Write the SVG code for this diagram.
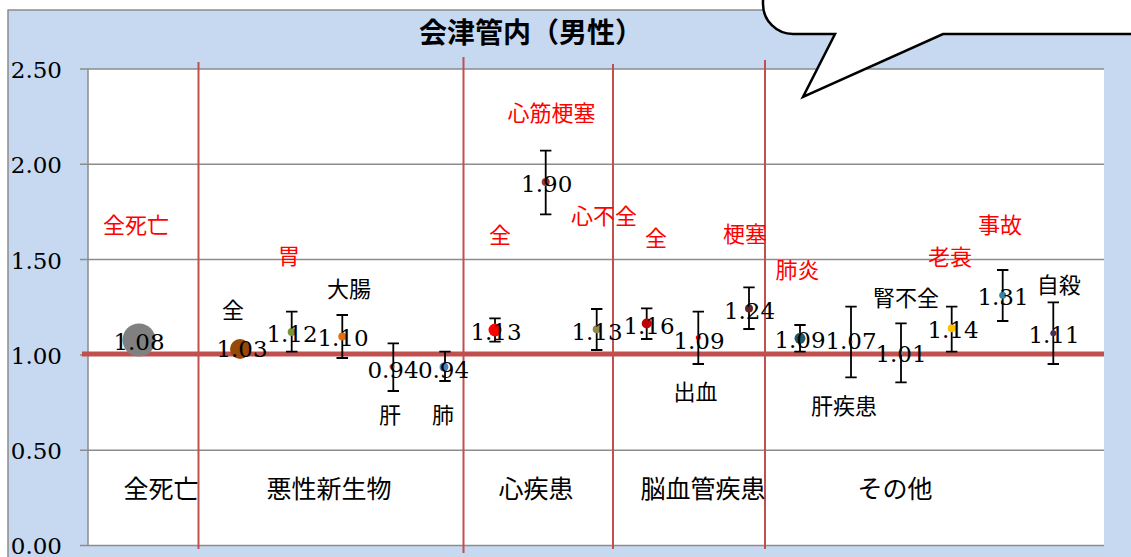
<svg xmlns="http://www.w3.org/2000/svg" width="1131" height="557" viewBox="0 0 1131 557">
<defs>
<style>
.grid{stroke:#8c8c8c;stroke-width:1.5;fill:none}
.div{stroke:#c0504d;stroke-width:2;fill:none}
.err{stroke:#000;stroke-width:1.8;fill:none}
.num{font-family:"DejaVu Serif","Liberation Serif",serif;font-size:23px;fill:#000;text-anchor:middle}
.ax{font-family:"DejaVu Serif","Liberation Serif",serif;font-size:23px;fill:#000;text-anchor:end}
.jr{font-family:"Noto Sans CJK JP",sans-serif;font-size:22px;fill:#ff0000;text-anchor:middle}
.jb{font-family:"Noto Sans CJK JP",sans-serif;font-size:22px;fill:#000;text-anchor:middle}
.cat{font-family:"Noto Sans CJK JP",sans-serif;font-size:25px;fill:#000;text-anchor:middle}
</style>
</defs>
<rect x="0" y="0" width="1131" height="557" fill="#fff"/>
<rect x="8" y="10" width="1140" height="560" fill="#c6d9f0" stroke="#8c8c8c" stroke-width="1.5"/>
<rect x="88" y="69" width="1016" height="476" fill="#fff"/>
<g id="axes">
<path class="grid" d="M80 69H1104M80 164.3H1104M80 259.6H1104M80 354.9H1104M80 450.2H1104M80 545.5H1104M88 69V545.5"/>
<text class="ax" x="62" y="78">2.50</text>
<text class="ax" x="62" y="173">2.00</text>
<text class="ax" x="62" y="268.5">1.50</text>
<text class="ax" x="62" y="364">1.00</text>
<text class="ax" x="62" y="459">0.50</text>
<text class="ax" x="62" y="554">0.00</text>
</g>
<text x="419" y="43" font-family="Noto Sans CJK JP, sans-serif" font-size="28" font-weight="bold" fill="#000">会津管内（男性）</text>
<g id="connectors">
<path class="div" d="M198.5 62V549M463.5 57V553M613 64V549M765 60V549"/>
<path d="M82 354H1104" stroke="#c0504d" stroke-width="5"/>
</g>
<g id="all-death">
<circle cx="139" cy="340" r="16.5" fill="#808080"/>
<text class="num" x="139" y="350">1.08</text>
<text class="jr" x="136" y="233">全死亡</text>
</g>
<g id="cancer-all">
<circle cx="240" cy="349" r="10" fill="#984807"/>
<text class="num" x="242" y="357">1.03</text>
<text class="jb" x="233" y="318">全</text>
</g>
<g id="stomach">
<path class="err" d="M291.7 311.7V351.7M286 311.7H297.5M286 351.7H297.5"/>
<circle cx="291.7" cy="332" r="4" fill="#77933c"/>
<text class="num" x="292" y="342">1.12</text>
<text class="jr" x="289" y="264">胃</text>
</g>
<g id="colon">
<path class="err" d="M342.3 315V358M336.5 315H348M336.5 358H348"/>
<circle cx="342.3" cy="336.5" r="4" fill="#e46c0a"/>
<text class="num" x="343" y="346">1.10</text>
<text class="jb" x="349" y="297">大腸</text>
</g>
<g id="liver">
<path class="err" d="M393.3 343.3V391M387.6 343.3H399M387.6 391H399"/>
<circle cx="392" cy="366.5" r="2.5" fill="#c0504d"/>
<text class="num" x="393" y="377.5">0.94</text>
<text class="jb" x="390" y="423">肝</text>
</g>
<g id="lung">
<path class="err" d="M445 351.7V381M439.3 351.7H450.7M439.3 381H450.7"/>
<circle cx="444" cy="367" r="4.5" fill="#4f81bd"/>
<text class="num" x="443.5" y="377.5">0.94</text>
<text class="jb" x="443" y="423">肺</text>
</g>
<g id="heart-all">
<path class="err" d="M495 318.3V341.7M489.3 318.3H500.7M489.3 341.7H500.7"/>
<circle cx="495" cy="330" r="6.5" fill="#ff0000"/>
<text class="num" x="496" y="340">1.13</text>
<text class="jr" x="500" y="243">全</text>
</g>
<g id="mi">
<path class="err" d="M545.7 150.7V214.3M540 150.7H551.4M540 214.3H551.4"/>
<circle cx="545.7" cy="182" r="4" fill="#953735"/>
<text class="num" x="546.7" y="192">1.90</text>
<text class="jr" x="551.5" y="121">心筋梗塞</text>
</g>
<g id="heart-failure">
<path class="err" d="M596.7 309V350M591 309H602.4M591 350H602.4"/>
<circle cx="596.7" cy="329.3" r="4" fill="#938953"/>
<text class="num" x="597" y="339.5">1.13</text>
<text class="jr" x="604" y="224">心不全</text>
</g>
<g id="cvd-all">
<path class="err" d="M646.7 308.3V339M641 308.3H652.4M641 339H652.4"/>
<circle cx="646.7" cy="323.5" r="5" fill="#c00000"/>
<text class="num" x="649" y="333.5">1.16</text>
<text class="jr" x="656" y="246" font-size="25">全</text>
</g>
<g id="hemorrhage">
<path class="err" d="M698.3 311.7V364M692.6 311.7H704M692.6 364H704"/>
<circle cx="698.3" cy="337.5" r="2.5" fill="#ff0000"/>
<text class="num" x="699" y="348.5">1.09</text>
<text class="jb" x="695.5" y="400">出血</text>
</g>
<g id="infarction">
<path class="err" d="M749 287.3V329M743.3 287.3H754.7M743.3 329H754.7"/>
<circle cx="749" cy="308.5" r="4" fill="#632523"/>
<text class="num" x="749.5" y="318.5">1.24</text>
<text class="jr" x="745" y="241.5">梗塞</text>
</g>
<g id="pneumonia">
<path class="err" d="M800 325V351.7M794.3 325H805.7M794.3 351.7H805.7"/>
<circle cx="800" cy="338.3" r="5.5" fill="#215968"/>
<text class="num" x="800" y="348">1.09</text>
<text class="jr" x="797.5" y="277.5">肺炎</text>
</g>
<g id="liver-disease">
<path class="err" d="M851 306.7V377.3M845.3 306.7H856.7M845.3 377.3H856.7"/>
<circle cx="851" cy="341.7" r="1.5" fill="#c0504d"/>
<text class="num" x="851" y="349.3">1.07</text>
<text class="jb" x="844" y="414">肝疾患</text>
</g>
<g id="renal-failure">
<path class="err" d="M901 323.3V382.3M895.3 323.3H906.7M895.3 382.3H906.7"/>
<circle cx="901" cy="353" r="2" fill="#7f7f7f"/>
<text class="num" x="901" y="361.7">1.01</text>
<text class="jb" x="906" y="305.5">腎不全</text>
</g>
<g id="senility">
<path class="err" d="M951.7 306.7V351.7M946 306.7H957.4M946 351.7H957.4"/>
<circle cx="951.7" cy="328.3" r="4" fill="#ffc000"/>
<text class="num" x="953" y="338.3">1.14</text>
<text class="jr" x="950" y="265">老衰</text>
</g>
<g id="accident">
<path class="err" d="M1002.7 270V321M997 270H1008.4M997 321H1008.4"/>
<circle cx="1002.7" cy="295.3" r="3.5" fill="#31859c"/>
<text class="num" x="1003" y="305">1.31</text>
<text class="jr" x="1000" y="232.5">事故</text>
</g>
<g id="suicide">
<path class="err" d="M1053.3 302.3V364M1047.6 302.3H1059M1047.6 364H1059"/>
<circle cx="1053.3" cy="333.3" r="3" fill="#403151"/>
<text class="num" x="1054" y="343.3">1.11</text>
<text class="jb" x="1058.7" y="293">自殺</text>
</g>
<g id="categories">
<text class="cat" x="161" y="498">全死亡</text>
<text class="cat" x="329" y="498">悪性新生物</text>
<text class="cat" x="536" y="498">心疾患</text>
<text class="cat" x="703" y="498">脳血管疾患</text>
<text class="cat" x="895" y="498">その他</text>
</g>
<g id="callout">
<path d="M763 -20V4A30 30 0 0 0 793 34H835L803 97L943 34H1140V-20Z" fill="#fff" stroke="#000" stroke-width="2.5" stroke-linejoin="miter"/>
</g>
</svg>
